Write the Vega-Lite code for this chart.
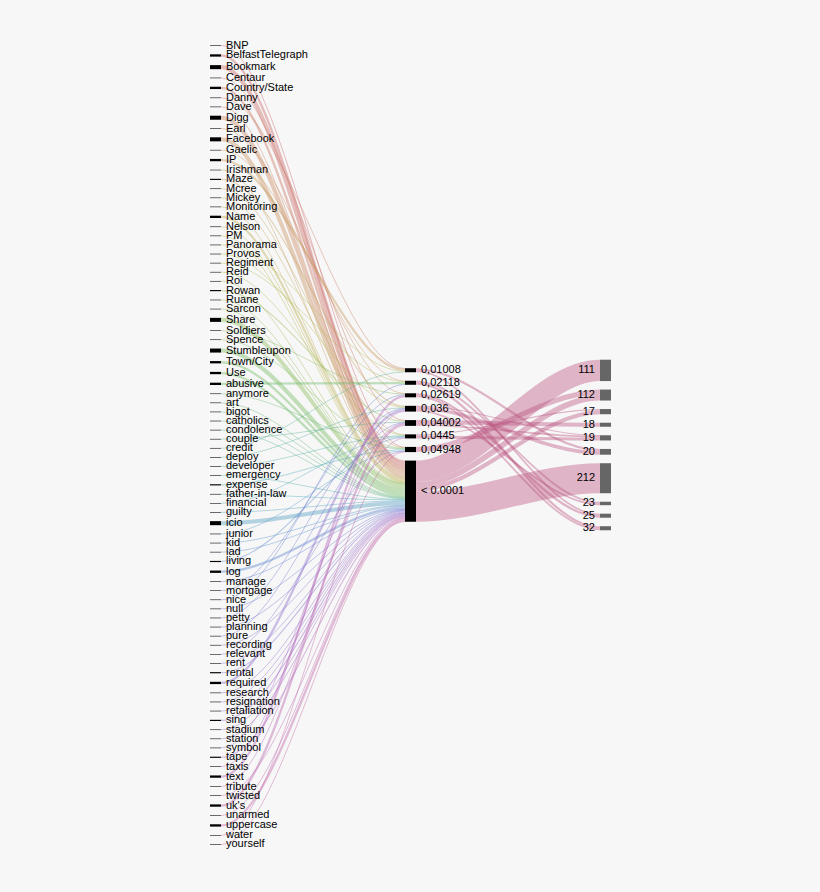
{
  "$schema": "https://vega.github.io/schema/vega-lite/v6.json",
  "width": 820,
  "height": 892,
  "autosize": {"type": "none"},
  "padding": 0,
  "background": "#f7f7f7",
  "config": {"view": {"stroke": null}, "text": {"font": "Liberation Sans", "fontSize": 11, "color": "#000"}},
  "data": {"values": [
    {"s": "BNP", "t": "0,04948", "v": 1, "step": 0},
    {"s": "BelfastTelegraph", "t": "< 0.0001", "v": 4, "step": 0},
    {"s": "Bookmark", "t": "< 0.0001", "v": 7, "step": 0},
    {"s": "Centaur", "t": "0,04002", "v": 1, "step": 0},
    {"s": "Country/State", "t": "< 0.0001", "v": 4, "step": 0},
    {"s": "Danny", "t": "0,01008", "v": 1, "step": 0},
    {"s": "Dave", "t": "< 0.0001", "v": 1, "step": 0},
    {"s": "Digg", "t": "< 0.0001", "v": 7, "step": 0},
    {"s": "Earl", "t": "0,02619", "v": 1, "step": 0},
    {"s": "Facebook", "t": "< 0.0001", "v": 7, "step": 0},
    {"s": "Gaelic", "t": "0,02118", "v": 1, "step": 0},
    {"s": "IP", "t": "0,01008", "v": 4, "step": 0},
    {"s": "Irishman", "t": "< 0.0001", "v": 1, "step": 0},
    {"s": "Maze", "t": "0,036", "v": 2, "step": 0},
    {"s": "Mcree", "t": "0,0445", "v": 1, "step": 0},
    {"s": "Mickey", "t": "0,04948", "v": 1, "step": 0},
    {"s": "Monitoring", "t": "< 0.0001", "v": 1, "step": 0},
    {"s": "Name", "t": "< 0.0001", "v": 4, "step": 0},
    {"s": "Nelson", "t": "< 0.0001", "v": 1, "step": 0},
    {"s": "PM", "t": "< 0.0001", "v": 1, "step": 0},
    {"s": "Panorama", "t": "0,01008", "v": 1, "step": 0},
    {"s": "Provos", "t": "0,036", "v": 1, "step": 0},
    {"s": "Regiment", "t": "0,02118", "v": 1, "step": 0},
    {"s": "Reid", "t": "0,0445", "v": 1, "step": 0},
    {"s": "Roi", "t": "< 0.0001", "v": 1, "step": 0},
    {"s": "Rowan", "t": "0,04002", "v": 2, "step": 0},
    {"s": "Ruane", "t": "< 0.0001", "v": 1, "step": 0},
    {"s": "Sarcon", "t": "< 0.0001", "v": 1, "step": 0},
    {"s": "Share", "t": "< 0.0001", "v": 7, "step": 0},
    {"s": "Soldiers", "t": "0,02619", "v": 1, "step": 0},
    {"s": "Spence", "t": "0,04948", "v": 1, "step": 0},
    {"s": "Stumbleupon", "t": "< 0.0001", "v": 7, "step": 0},
    {"s": "Town/City", "t": "< 0.0001", "v": 4, "step": 0},
    {"s": "Use", "t": "< 0.0001", "v": 4, "step": 0},
    {"s": "abusive", "t": "0,02118", "v": 4, "step": 0},
    {"s": "anymore", "t": "0,04948", "v": 1, "step": 0},
    {"s": "art", "t": "< 0.0001", "v": 1, "step": 0},
    {"s": "bigot", "t": "< 0.0001", "v": 1, "step": 0},
    {"s": "catholics", "t": "< 0.0001", "v": 1, "step": 0},
    {"s": "condolence", "t": "< 0.0001", "v": 1, "step": 0},
    {"s": "couple", "t": "0,04002", "v": 1, "step": 0},
    {"s": "credit", "t": "0,01008", "v": 1, "step": 0},
    {"s": "deploy", "t": "0,036", "v": 1, "step": 0},
    {"s": "developer", "t": "0,0445", "v": 1, "step": 0},
    {"s": "emergency", "t": "< 0.0001", "v": 1, "step": 0},
    {"s": "expense", "t": "0,04948", "v": 2, "step": 0},
    {"s": "father-in-law", "t": "< 0.0001", "v": 1, "step": 0},
    {"s": "financial", "t": "0,0445", "v": 1, "step": 0},
    {"s": "guilty", "t": "< 0.0001", "v": 1, "step": 0},
    {"s": "icio", "t": "< 0.0001", "v": 7, "step": 0},
    {"s": "junior", "t": "0,04948", "v": 1, "step": 0},
    {"s": "kid", "t": "< 0.0001", "v": 1, "step": 0},
    {"s": "lad", "t": "< 0.0001", "v": 1, "step": 0},
    {"s": "living", "t": "0,0445", "v": 2, "step": 0},
    {"s": "log", "t": "< 0.0001", "v": 4, "step": 0},
    {"s": "manage", "t": "< 0.0001", "v": 1, "step": 0},
    {"s": "mortgage", "t": "0,02619", "v": 1, "step": 0},
    {"s": "nice", "t": "0,02118", "v": 1, "step": 0},
    {"s": "null", "t": "< 0.0001", "v": 1, "step": 0},
    {"s": "petty", "t": "0,036", "v": 1, "step": 0},
    {"s": "planning", "t": "< 0.0001", "v": 1, "step": 0},
    {"s": "pure", "t": "0,04002", "v": 1, "step": 0},
    {"s": "recording", "t": "< 0.0001", "v": 1, "step": 0},
    {"s": "relevant", "t": "0,04948", "v": 1, "step": 0},
    {"s": "rent", "t": "< 0.0001", "v": 1, "step": 0},
    {"s": "rental", "t": "< 0.0001", "v": 2, "step": 0},
    {"s": "required", "t": "0,036", "v": 4, "step": 0},
    {"s": "research", "t": "< 0.0001", "v": 1, "step": 0},
    {"s": "resignation", "t": "< 0.0001", "v": 1, "step": 0},
    {"s": "retaliation", "t": "< 0.0001", "v": 1, "step": 0},
    {"s": "sing", "t": "< 0.0001", "v": 2, "step": 0},
    {"s": "stadium", "t": "< 0.0001", "v": 1, "step": 0},
    {"s": "station", "t": "< 0.0001", "v": 1, "step": 0},
    {"s": "symbol", "t": "0,04002", "v": 1, "step": 0},
    {"s": "tape", "t": "< 0.0001", "v": 2, "step": 0},
    {"s": "taxis", "t": "0,036", "v": 1, "step": 0},
    {"s": "text", "t": "0,02619", "v": 4, "step": 0},
    {"s": "tribute", "t": "0,0445", "v": 1, "step": 0},
    {"s": "twisted", "t": "< 0.0001", "v": 1, "step": 0},
    {"s": "uk's", "t": "0,04002", "v": 4, "step": 0},
    {"s": "unarmed", "t": "< 0.0001", "v": 1, "step": 0},
    {"s": "uppercase", "t": "< 0.0001", "v": 4, "step": 0},
    {"s": "water", "t": "0,04948", "v": 1, "step": 0},
    {"s": "yourself", "t": "< 0.0001", "v": 1, "step": 0},
    {"s": "< 0.0001", "t": "111", "v": 37, "step": 1},
    {"s": "< 0.0001", "t": "112", "v": 10, "step": 1},
    {"s": "< 0.0001", "t": "212", "v": 52, "step": 1},
    {"s": "< 0.0001", "t": "17", "v": 7, "step": 1},
    {"s": "0,04948", "t": "112", "v": 9, "step": 1},
    {"s": "0,0445", "t": "17", "v": 2, "step": 1},
    {"s": "0,0445", "t": "19", "v": 5, "step": 1},
    {"s": "0,04002", "t": "18", "v": 7, "step": 1},
    {"s": "0,04002", "t": "19", "v": 3, "step": 1},
    {"s": "0,036", "t": "19", "v": 1, "step": 1},
    {"s": "0,036", "t": "20", "v": 6, "step": 1},
    {"s": "0,036", "t": "23", "v": 3, "step": 1},
    {"s": "0,01008", "t": "20", "v": 4, "step": 1},
    {"s": "0,01008", "t": "25", "v": 3, "step": 1},
    {"s": "0,02118", "t": "23", "v": 3, "step": 1},
    {"s": "0,02118", "t": "32", "v": 4, "step": 1},
    {"s": "0,02619", "t": "25", "v": 4, "step": 1},
    {"s": "0,02619", "t": "32", "v": 3, "step": 1}
  ]},
  "transform": [
    {"window": [{"op": "sum", "field": "v", "as": "sCumI"}], "groupby": ["step"], "sort": [{"field": "s"}, {"field": "t"}], "frame": [null, 0]},
    {"window": [{"op": "dense_rank", "as": "sRank"}], "groupby": ["step"], "sort": [{"field": "s"}]},
    {"window": [{"op": "sum", "field": "v", "as": "tCumI"}], "groupby": ["step"], "sort": [{"field": "t"}, {"field": "s"}], "frame": [null, 0]},
    {"window": [{"op": "dense_rank", "as": "tRank"}], "groupby": ["step"], "sort": [{"field": "t"}]},
    {"joinaggregate": [{"op": "sum", "field": "v", "as": "tot"}, {"op": "distinct", "field": "s", "as": "nS"}, {"op": "distinct", "field": "t", "as": "nT"}], "groupby": ["step"]},
    {"calculate": "-(datum.tot + (datum.nS - 1) * 14.73) / 2 + datum.sCumI - datum.v + (datum.sRank - 1) * 14.73", "as": "sTop"},
    {"calculate": "-(datum.tot + (datum.nT - 1) * 14.73) / 2 + datum.tCumI - datum.v + (datum.tRank - 1) * 14.73", "as": "tTop"},
    {"calculate": "datum.sTop + datum.v", "as": "sBot"},
    {"calculate": "datum.tTop + datum.v", "as": "tBot"},
    {"calculate": "datum.sTop + datum.v / 2", "as": "sMid"},
    {"calculate": "datum.tTop + datum.v / 2", "as": "tMid"},
    {"calculate": "max(datum.v, 1.733)", "as": "sw"},
    {"calculate": "datum.step == 0 ? (datum.sRank - 1) / (datum.nS - 1) * 0.9 : 1", "as": "h"}
  ],
  "layer": [
    {
      "transform": [
        {"calculate": "[0, 1, 2, 3]", "as": "k"},
        {"flatten": ["k"]},
        {"calculate": "datum.k == 0 ? datum.step + 0.0564 : (datum.k == 1 ? datum.step + 0.0584 : (datum.k == 2 ? datum.step + 0.998 : datum.step + 1))", "as": "px"},
        {"calculate": "datum.k < 2 ? datum.sMid : datum.tMid", "as": "py"}
      ],
      "mark": {"type": "line", "interpolate": "monotone", "strokeOpacity": 0.4, "strokeCap": "butt"},
      "encoding": {
        "x": {"field": "px", "type": "quantitative", "scale": {"domain": [-1.0769, 3.1282], "nice": false, "zero": false}, "axis": null},
        "y": {"field": "py", "type": "quantitative", "scale": {"domain": [-771.2, 774.7], "nice": false, "zero": false, "reverse": true}, "axis": null},
        "detail": [{"field": "s"}, {"field": "t"}],
        "order": {"field": "k"},
        "strokeWidth": {"field": "sw", "type": "quantitative", "scale": {"type": "linear", "domain": [0, 100], "range": [0, 57.7], "zero": true}, "legend": null},
        "color": {"field": "h", "type": "quantitative", "legend": null, "scale": {
          "domain": [0, 0.1, 0.22, 0.35, 0.5, 0.6, 0.7, 0.82, 0.9, 1.0],
          "range": ["#c8585f", "#c8905a", "#b5b848", "#6cba5c", "#4aaab8", "#5878d0", "#8068cc", "#b060b8", "#c05a9a", "#b8507e"],
          "interpolate": "rgb"}}
      }
    },
    {
      "transform": [
        {"filter": "datum.step == 0"},
        {"aggregate": [{"op": "min", "field": "sTop", "as": "y0"}, {"op": "max", "field": "sBot", "as": "y1"}], "groupby": ["s", "step"]},
        {"calculate": "datum.step", "as": "x0"},
        {"calculate": "datum.step + 0.0564", "as": "x1"}
      ],
      "mark": {"type": "rect", "color": "#000"},
      "encoding": {
        "x": {"field": "x0", "type": "quantitative", "scale": {"domain": [-1.0769, 3.1282], "nice": false, "zero": false}, "axis": null},
        "x2": {"field": "x1"},
        "y": {"field": "y0", "type": "quantitative", "scale": {"domain": [-771.2, 774.7], "nice": false, "zero": false, "reverse": true}, "axis": null},
        "y2": {"field": "y1"}
      }
    },
    {
      "transform": [
        {"aggregate": [{"op": "min", "field": "tTop", "as": "y0"}, {"op": "max", "field": "tBot", "as": "y1"}], "groupby": ["t", "step"]},
        {"calculate": "datum.step + 1", "as": "x0"},
        {"calculate": "datum.step + 1 + 0.0564", "as": "x1"}
      ],
      "mark": {"type": "rect"},
      "encoding": {
        "x": {"field": "x0", "type": "quantitative", "scale": {"domain": [-1.0769, 3.1282], "nice": false, "zero": false}, "axis": null},
        "x2": {"field": "x1"},
        "y": {"field": "y0", "type": "quantitative", "scale": {"domain": [-771.2, 774.7], "nice": false, "zero": false, "reverse": true}, "axis": null},
        "y2": {"field": "y1"},
        "color": {"condition": {"test": "datum.step == 1", "value": "#666666"}, "value": "#000000"}
      }
    },
    {
      "transform": [
        {"filter": "datum.step == 0"},
        {"aggregate": [{"op": "min", "field": "sTop", "as": "y0"}, {"op": "max", "field": "sBot", "as": "y1"}], "groupby": ["s", "step"]},
        {"calculate": "(datum.y0 + datum.y1) / 2", "as": "ym"},
        {"calculate": "datum.step + 0.0564", "as": "x1"}
      ],
      "mark": {"type": "text", "align": "left", "baseline": "middle", "dx": 5},
      "encoding": {
        "x": {"field": "x1", "type": "quantitative", "scale": {"domain": [-1.0769, 3.1282], "nice": false, "zero": false}, "axis": null},
        "y": {"field": "ym", "type": "quantitative", "scale": {"domain": [-771.2, 774.7], "nice": false, "zero": false, "reverse": true}, "axis": null},
        "text": {"field": "s"}
      }
    },
    {
      "transform": [
        {"filter": "datum.step == 0"},
        {"aggregate": [{"op": "min", "field": "tTop", "as": "y0"}, {"op": "max", "field": "tBot", "as": "y1"}], "groupby": ["t", "step"]},
        {"calculate": "(datum.y0 + datum.y1) / 2", "as": "ym"},
        {"calculate": "datum.step + 1 + 0.0564", "as": "x1"}
      ],
      "mark": {"type": "text", "align": "left", "baseline": "middle", "dx": 5},
      "encoding": {
        "x": {"field": "x1", "type": "quantitative", "scale": {"domain": [-1.0769, 3.1282], "nice": false, "zero": false}, "axis": null},
        "y": {"field": "ym", "type": "quantitative", "scale": {"domain": [-771.2, 774.7], "nice": false, "zero": false, "reverse": true}, "axis": null},
        "text": {"field": "t"}
      }
    },
    {
      "transform": [
        {"filter": "datum.step == 1"},
        {"aggregate": [{"op": "min", "field": "tTop", "as": "y0"}, {"op": "max", "field": "tBot", "as": "y1"}], "groupby": ["t", "step"]},
        {"calculate": "(datum.y0 + datum.y1) / 2", "as": "ym"},
        {"calculate": "datum.step + 1", "as": "x0"}
      ],
      "mark": {"type": "text", "align": "right", "baseline": "middle", "dx": -5},
      "encoding": {
        "x": {"field": "x0", "type": "quantitative", "scale": {"domain": [-1.0769, 3.1282], "nice": false, "zero": false}, "axis": null},
        "y": {"field": "ym", "type": "quantitative", "scale": {"domain": [-771.2, 774.7], "nice": false, "zero": false, "reverse": true}, "axis": null},
        "text": {"field": "t"}
      }
    }
  ]
}
